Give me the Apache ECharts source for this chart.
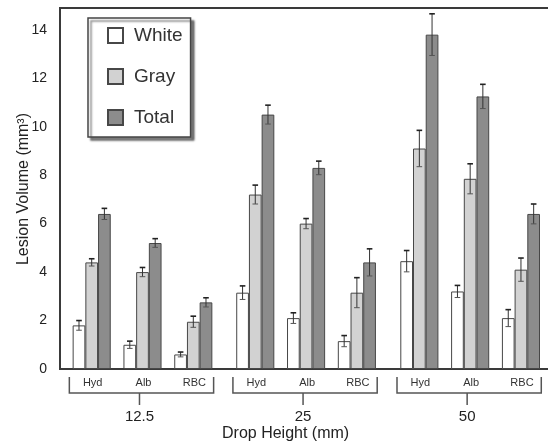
<!DOCTYPE html>
<html>
<head>
<meta charset="utf-8">
<script src="https://cdn.jsdelivr.net/npm/echarts@6/dist/echarts.min.js"></script>
<style>
  html, body { margin: 0; padding: 0; background: #fff; }
  #chart { width: 548px; height: 447px; }
</style>
</head>
<body>
<div id="chart"></div>
<script>
// Treatment groups along the x axis, clustered by drop height
const groupLabels = ['Hyd', 'Alb', 'RBC', 'Hyd', 'Alb', 'RBC', 'Hyd', 'Alb', 'RBC'];
const groupPos = [0, 1, 2, 3.22, 4.22, 5.22, 6.45, 7.45, 8.45];
const heightLabels = ['12.5', '25', '50'];
const heightGroups = [[0, 2], [3, 5], [6, 8]];

// Lesion volumes (mm^3) and their error bars
const whiteVals = [1.8, 1.0, 0.6, 3.15, 2.1, 1.15, 4.45, 3.2, 2.1];
const grayVals = [4.4, 4.0, 1.95, 7.2, 6.0, 3.15, 9.1, 7.85, 4.1];
const totalVals = [6.4, 5.2, 2.75, 10.5, 8.3, 4.4, 13.8, 11.25, 6.4];
const whiteErr = [0.2, 0.15, 0.1, 0.28, 0.22, 0.23, 0.44, 0.25, 0.35];
const grayErr = [0.15, 0.19, 0.23, 0.39, 0.21, 0.62, 0.75, 0.62, 0.48];
const totalErr = [0.23, 0.18, 0.19, 0.39, 0.28, 0.56, 0.86, 0.5, 0.41];

const yMin = 0, yMax = 14.9, yInterval = 2;

const BAR_W = 12.7;
const FONT = 'Liberation Sans, Arial, sans-serif';
const INK = '#3a3a3a';

function barSeries(name, vals, color) {
  return {
    name: name,
    type: 'bar',
    barWidth: BAR_W,
    barGap: '0%',
    data: vals.map((v, i) => [groupPos[i], v]),
    itemStyle: { color: color, borderColor: '#474747', borderWidth: 1 },
    emphasis: { disabled: true },
    z: 2
  };
}

function errSeries(vals, errs, slot) {
  return {
    type: 'custom',
    silent: true,
    z: 5,
    clip: false,
    data: vals.map((v, i) => [groupPos[i], v, errs[i]]),
    renderItem: function (params, api) {
      const x = api.value(0), v = api.value(1), e = api.value(2);
      const cx = api.coord([x, v])[0] + (slot - 1) * BAR_W;
      const yt = api.coord([x, v + e])[1];
      const yb = api.coord([x, v - e])[1];
      const cap = 2.8;
      return {
        type: 'group',
        children: [
          { type: 'line', shape: { x1: cx, y1: yt, x2: cx, y2: yb }, style: { stroke: '#333', lineWidth: 1 } },
          { type: 'line', shape: { x1: cx - cap, y1: yt, x2: cx + cap, y2: yt }, style: { stroke: '#222', lineWidth: 1.6 } },
          { type: 'line', shape: { x1: cx - cap, y1: yb, x2: cx + cap, y2: yb }, style: { stroke: '#555', lineWidth: 1 } }
        ]
      };
    }
  };
}

// Group names just below the axis
const groupLabelSeries = {
  type: 'custom',
  silent: true,
  clip: false,
  data: groupPos.map((p, i) => [p, 0, i]),
  renderItem: function (params, api) {
    const c = api.coord([api.value(0), 0]);
    return {
      type: 'text',
      style: {
        x: c[0] + 1, y: c[1] + 14,
        text: groupLabels[api.value(2)],
        font: '11px ' + FONT,
        fill: '#333',
        textAlign: 'center', textVerticalAlign: 'middle'
      }
    };
  }
};

// Brackets that gather the groups of each drop height
const bracketSeries = {
  type: 'custom',
  silent: true,
  clip: false,
  data: heightGroups.map((g, i) => [groupPos[g[0]] - 0.44, groupPos[g[1]] + 0.4, i]),
  renderItem: function (params, api) {
    const l = api.coord([api.value(0), 0]);
    const r = api.coord([api.value(1), 0]);
    const y0 = l[1];
    const ya = y0 + 8, yb = y0 + 24, yc = y0 + 36;
    const mx = (l[0] + r[0]) / 2 - 2;
    const st = { stroke: '#555', lineWidth: 1.5 };
    return {
      type: 'group',
      children: [
        { type: 'polyline', shape: { points: [[l[0], ya], [l[0], yb], [r[0], yb], [r[0], ya]] }, style: Object.assign({ fill: null }, st) },
        { type: 'line', shape: { x1: mx, y1: yb, x2: mx, y2: yc }, style: st },
        {
          type: 'text',
          style: {
            x: mx, y: y0 + 47.5,
            text: heightLabels[api.value(2)],
            font: '15px ' + FONT,
            fill: '#222',
            textAlign: 'center', textVerticalAlign: 'middle'
          }
        }
      ]
    };
  }
};

const chart = echarts.init(document.getElementById('chart'), null, { renderer: 'canvas' });

chart.setOption({
  animation: false,
  backgroundColor: '#fff',
  textStyle: { fontFamily: FONT },
  grid: {
    left: 60, width: 508, top: 8, bottom: 78,
    containLabel: false,
    outerBoundsMode: 'none',
    show: true, borderColor: INK, borderWidth: 2, backgroundColor: 'transparent'
  },
  legend: {
    orient: 'vertical',
    left: 88, top: 18,
    data: ['White', 'Gray', 'Total'],
    icon: 'rect',
    itemWidth: 15, itemHeight: 15,
    itemGap: 22,
    padding: [8, 8, 10, 19],
    backgroundColor: '#fff',
    borderColor: '#444', borderWidth: 1.5, borderRadius: 0,
    shadowColor: 'rgba(0,0,0,0.5)', shadowBlur: 2, shadowOffsetX: 3, shadowOffsetY: 3,
    textStyle: { fontSize: 19, color: '#333', fontFamily: FONT, padding: [0, 0, 0, 6] },
    selectedMode: false
  },
  xAxis: {
    type: 'value',
    min: -0.624, max: 9.376,
    axisLine: { show: false },
    axisTick: { show: false },
    axisLabel: { show: false },
    splitLine: { show: false }
  },
  yAxis: {
    type: 'value',
    min: yMin, max: yMax, interval: yInterval,
    axisLine: { show: false },
    axisTick: { show: false },
    splitLine: { show: false },
    axisLabel: {
      fontSize: 14, color: '#222', margin: 13,
      formatter: v => (Math.abs(v % yInterval) < 1e-9 ? String(v) : '')
    }
  },
  graphic: [
    {
      type: 'text',
      x: 24, y: 189,
      rotation: Math.PI / 2,
      style: {
        text: 'Lesion Volume (mm³)', font: '16px ' + FONT, fill: '#222',
        align: 'center', verticalAlign: 'middle'
      }
    },
    {
      type: 'text',
      left: 222, top: 426,
      style: { text: 'Drop Height (mm)', font: '16px ' + FONT, fill: '#222' }
    }
  ],
  series: [
    barSeries('White', whiteVals, '#ffffff'),
    barSeries('Gray', grayVals, '#d2d2d2'),
    barSeries('Total', totalVals, '#8c8c8c'),
    errSeries(whiteVals, whiteErr, 0),
    errSeries(grayVals, grayErr, 1),
    errSeries(totalVals, totalErr, 2),
    groupLabelSeries,
    bracketSeries
  ]
});
</script>
</body>
</html>
